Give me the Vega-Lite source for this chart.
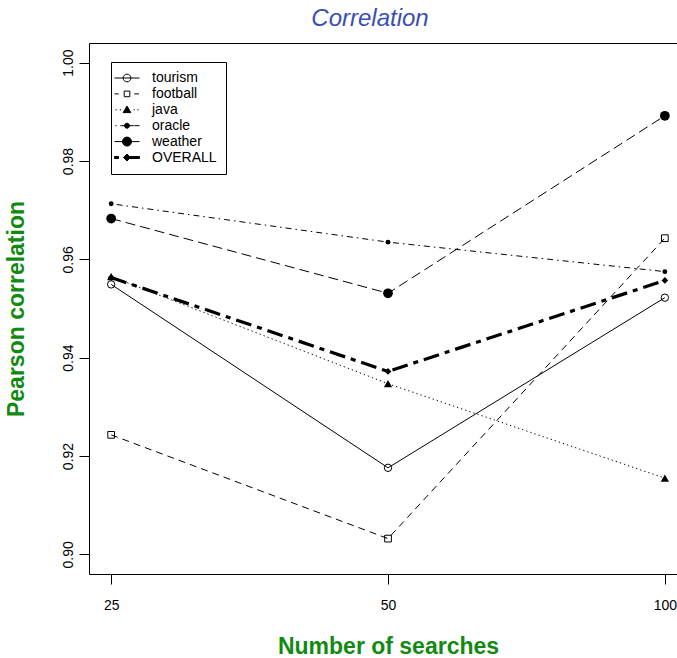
{
  "$schema": "https://vega.github.io/schema/vega-lite/v6.json",
  "width": 598,
  "height": 531,
  "autosize": {"type": "none"},
  "padding": {"left": 89, "top": 43, "right": -10, "bottom": 84},
  "background": "white",
  "title": {
    "text": "Correlation",
    "font": "Liberation Sans",
    "fontSize": 24,
    "fontStyle": "italic",
    "fontWeight": "normal",
    "color": "#3a4fb4",
    "anchor": "middle",
    "frame": "group",
    "dx": -18,
    "baseline": "alphabetic",
    "offset": -7
  },
  "config": {
    "font": "Liberation Sans",
    "view": {"stroke": "black", "strokeWidth": 1},
    "axis": {
      "grid": false,
      "domain": false,
      "tickColor": "black",
      "tickSize": 10,
      "tickWidth": 1,
      "labelColor": "black",
      "labelFontSize": 14,
      "labelFont": "Liberation Sans",
      "labelFlush": false,
      "labelOverlap": false,
      "titleFont": "Liberation Sans",
      "titleFontSize": 23,
      "titleFontWeight": "bold",
      "titleColor": "#128a12"
    },
    "legend": {
      "title": null,
      "orient": "none",
      "legendX": 22,
      "legendY": 19,
      "padding": 9,
      "strokeColor": "black",
      "fillColor": "white",
      "cornerRadius": 0,
      "symbolSize": 156,
      "symbolStrokeColor": "black",
      "symbolStrokeWidth": 1,
      "symbolOpacity": 1,
      "labelFont": "Liberation Sans",
      "labelFontSize": 14,
      "labelColor": "black",
      "labelOffset": 18,
      "rowPadding": 1.9,
      "labelLimit": 200
    }
  },
  "data": {
    "values": [
      {"series": "tourism", "searches": 25, "corr": 0.9549},
      {"series": "tourism", "searches": 50, "corr": 0.9176},
      {"series": "tourism", "searches": 100, "corr": 0.9522},
      {"series": "football", "searches": 25, "corr": 0.9243},
      {"series": "football", "searches": 50, "corr": 0.9032},
      {"series": "football", "searches": 100, "corr": 0.9643},
      {"series": "java", "searches": 25, "corr": 0.9565},
      {"series": "java", "searches": 50, "corr": 0.9347},
      {"series": "java", "searches": 100, "corr": 0.9155},
      {"series": "oracle", "searches": 25, "corr": 0.9713},
      {"series": "oracle", "searches": 50, "corr": 0.9635},
      {"series": "oracle", "searches": 100, "corr": 0.9575},
      {"series": "weather", "searches": 25, "corr": 0.9683},
      {"series": "weather", "searches": 50, "corr": 0.9531},
      {"series": "weather", "searches": 100, "corr": 0.9892},
      {"series": "OVERALL", "searches": 25, "corr": 0.9563},
      {"series": "OVERALL", "searches": 50, "corr": 0.9372},
      {"series": "OVERALL", "searches": 100, "corr": 0.9557}
    ]
  },
  "encoding": {
    "x": {
      "field": "searches",
      "type": "quantitative",
      "scale": {"type": "log", "domain": [23.65, 105.7], "nice": false},
      "axis": {
        "values": [25, 50, 100],
        "format": "d",
        "labelAngle": 0,
        "labelPadding": 14,
        "title": "Number of searches",
        "titleX": 299,
        "titleY": 79,
        "titleBaseline": "alphabetic",
        "titleAlign": "center"
      }
    },
    "y": {
      "field": "corr",
      "type": "quantitative",
      "scale": {"domain": [0.896, 1.004], "nice": false, "zero": false},
      "axis": {
        "values": [0.9, 0.92, 0.94, 0.96, 0.98, 1.0],
        "format": ".2f",
        "labelAngle": 270,
        "labelAlign": "center",
        "labelBaseline": "alphabetic",
        "labelPadding": 7,
        "title": "Pearson correlation",
        "titleAngle": 270,
        "titleX": -66,
        "titleY": 265.5,
        "titleAlign": "center",
        "titleBaseline": "alphabetic"
      }
    }
  },
  "layer": [
    {
      "transform": [{"filter": {"field": "series", "equal": "tourism"}}],
      "mark": {"type": "line", "color": "black", "strokeWidth": 1}
    },
    {
      "transform": [{"filter": {"field": "series", "equal": "football"}}],
      "mark": {"type": "line", "color": "black", "strokeWidth": 1, "strokeDash": [7, 5]}
    },
    {
      "transform": [{"filter": {"field": "series", "equal": "java"}}],
      "mark": {"type": "line", "color": "black", "strokeWidth": 1, "strokeDash": [1.3, 3]}
    },
    {
      "transform": [{"filter": {"field": "series", "equal": "oracle"}}],
      "mark": {"type": "line", "color": "black", "strokeWidth": 1, "strokeDash": [1.5, 4, 6, 4]}
    },
    {
      "transform": [{"filter": {"field": "series", "equal": "weather"}}],
      "mark": {"type": "line", "color": "black", "strokeWidth": 1, "strokeDash": [10, 5]}
    },
    {
      "transform": [{"filter": {"field": "series", "equal": "OVERALL"}}],
      "mark": {"type": "line", "color": "black", "strokeWidth": 3.2, "strokeDash": [16, 6, 5, 6]}
    },
    {
      "transform": [{"filter": {"field": "series", "equal": "tourism"}}],
      "mark": {"type": "point", "shape": "circle", "filled": false, "color": "black", "strokeWidth": 1, "size": 55, "opacity": 1}
    },
    {
      "transform": [{"filter": {"field": "series", "equal": "football"}}],
      "mark": {"type": "point", "shape": "square", "filled": false, "color": "black", "strokeWidth": 1, "size": 45, "opacity": 1}
    },
    {
      "transform": [{"filter": {"field": "series", "equal": "java"}}],
      "mark": {"type": "point", "shape": "triangle-up", "filled": true, "color": "black", "size": 70, "opacity": 1}
    },
    {
      "transform": [{"filter": {"field": "series", "equal": "oracle"}}],
      "mark": {"type": "point", "shape": "circle", "filled": true, "color": "black", "size": 24, "opacity": 1}
    },
    {
      "transform": [{"filter": {"field": "series", "equal": "weather"}}],
      "mark": {"type": "point", "shape": "circle", "filled": true, "color": "black", "size": 95, "opacity": 1}
    },
    {
      "transform": [{"filter": {"field": "series", "equal": "OVERALL"}}],
      "mark": {"type": "point", "shape": "diamond", "filled": true, "color": "black", "size": 45, "opacity": 1}
    },
    {
      "transform": [{"filter": "datum.corr > 2"}],
      "mark": {"type": "point", "filled": true, "strokeWidth": 1, "opacity": 1},
      "encoding": {
        "shape": {
          "field": "series",
          "type": "nominal",
          "scale": {
            "domain": ["tourism", "football", "java", "oracle", "weather", "OVERALL"],
            "range": [
              "M-2,0H2M-0.62,0A0.62,0.62 0 1,1 0.62,0A0.62,0.62 0 1,1 -0.62,0Z",
              "M-2,0H-1.33M1.17,0H1.92M-0.45,-0.45H0.45V0.45H-0.45Z",
              "M-1.84,0H-1.64M-1.15,0H-0.95M1.05,0H1.25M1.66,0H1.86M0,-0.6L0.62,0.45H-0.62Z",
              "M-1.85,0H-1.65M-1.07,0H1.07M1.17,0H2M-0.4,0A0.4,0.4 0 1,1 0.4,0A0.4,0.4 0 1,1 -0.4,0Z",
              "M-2,0H2M-0.72,0A0.72,0.72 0 1,1 0.72,0A0.72,0.72 0 1,1 -0.72,0Z",
              "M-2,-0.16H-1.35V0.16H-2ZM0,-0.16H2V0.16H0ZM0,-0.56L0.56,0L0,0.56L-0.56,0Z"
            ]
          }
        },
        "fill": {
          "field": "series",
          "type": "nominal",
          "scale": {
            "domain": ["tourism", "football", "java", "oracle", "weather", "OVERALL"],
            "range": ["transparent", "transparent", "black", "black", "black", "black"]
          }
        },
        "stroke": {
          "field": "series",
          "type": "nominal",
          "scale": {
            "domain": ["tourism", "football", "java", "oracle", "weather", "OVERALL"],
            "range": ["black", "black", "black", "black", "black", "black"]
          }
        }
      }
    }
  ]
}
